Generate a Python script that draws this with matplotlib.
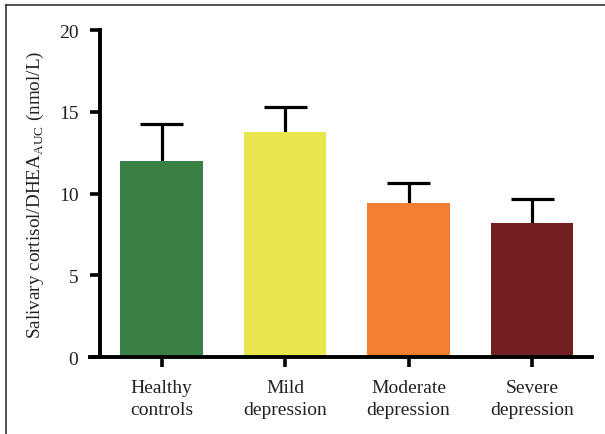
import numpy as np
import matplotlib.pyplot as plt
from matplotlib.lines import Line2D

groups = ['Healthy\ncontrols', 'Mild\ndepression', 'Moderate\ndepression', 'Severe\ndepression']
means = [12.0, 13.78, 9.42, 8.2]
sems = [2.25, 1.5, 1.2, 1.48]
colors = ['#3a7f44', '#e8e64f', '#f38032', '#731f22']

plt.rcParams['font.family'] = ['Liberation Serif', 'DejaVu Serif']
plt.rcParams['mathtext.fontset'] = 'custom'
plt.rcParams['mathtext.rm'] = 'Liberation Serif'

fig = plt.figure(figsize=(6.05, 4.35), dpi=100)
ax = fig.add_axes([0.1488, 0.177, 0.8298, 0.7517])

x = np.arange(len(groups))
tops = np.array(means) + np.array(sems)
cap = 0.174
ax.vlines(x, means, tops, color='black', linewidth=2.3, zorder=1)
ax.hlines(tops, x - cap, x + cap, color='black', linewidth=2.3, zorder=1)
ax.bar(x, means, width=0.67, color=colors, zorder=2)

ax.set_xlim(-0.579, 3.486)
ax.set_ylim(0, 20)
ax.set_yticks([0, 5, 10, 15, 20])
ax.set_xticks(x)
ax.set_xticklabels(groups, fontsize=14, color='#222222', linespacing=1.4)
ax.tick_params(axis='y', labelsize=14, width=2.6, length=7.5, colors='black', labelcolor='#222222', pad=8)
ax.tick_params(axis='x', width=2.6, length=7.5, pad=8)

for s in ['top', 'right']:
    ax.spines[s].set_visible(False)
ax.spines['left'].set_position(('data', -0.498))
ax.spines['left'].set_linewidth(2.8)
ax.spines['bottom'].set_linewidth(2.8)

ax.set_ylabel(r'Salivary cortisol/DHEA$_{\mathregular{AUC}}$ (nmol/L)', fontsize=13.8, color='#222222')
ax.yaxis.set_label_coords(-0.088, 0.5)

# frame of the figure: only left and top edges
fig.add_artist(Line2D([0.0105, 0.0105], [0.0, 0.986], transform=fig.transFigure, color='#333333', linewidth=1.2))
fig.add_artist(Line2D([0.0105, 1.0], [0.986, 0.986], transform=fig.transFigure, color='#333333', linewidth=1.2))

fig.savefig('out.png', dpi=100)
